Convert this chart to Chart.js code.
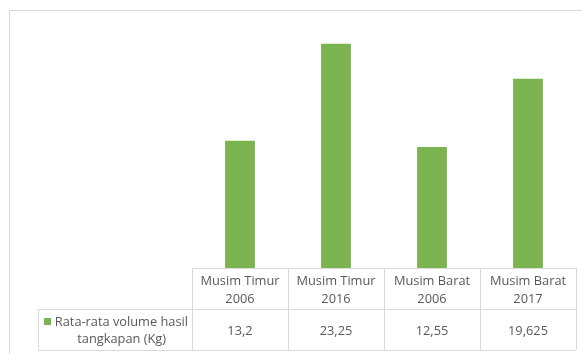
<!DOCTYPE html>
<html lang="id">
<head>
<meta charset="UTF-8">
<title>Rata-rata volume hasil tangkapan</title>
<script src="https://cdn.jsdelivr.net/npm/chart.js"></script>
<style>
  body { margin: 0; background: #fff; }
  .frame { position: absolute; left: 9px; top: 10px; width: 590px; height: 360px; border: 1px solid #d9d9d9; box-sizing: border-box; }
  #wrap { position: relative; width: 582px; height: 354px; }
</style>
</head>
<body>
<div id="wrap">
  <div class="frame"></div>
  <canvas id="catchChart" width="582" height="354"></canvas>
</div>
<script>
// categories (two-line labels) and the single series
const categories = [['Musim Timur', '2006'], ['Musim Timur', '2016'], ['Musim Barat', '2006'], ['Musim Barat', '2017']];
const seriesName = ['Rata-rata volume hasil', 'tangkapan (Kg)'];
const volumes = [13.2, 23.25, 12.55, 19.625];
const valueLabels = ['13,2', '23,25', '12,55', '19,625'];

const green = '#7bb34f';
const lineColor = '#d9d9d9';
const textColor = '#595959';
const font = '12.8px "Open Sans", sans-serif';

// draws the Excel style data table underneath the plot
const dataTable = {
  id: 'dataTable',
  afterDraw(chart) {
    const ctx = chart.ctx;
    const x = chart.scales.x;
    const area = chart.chartArea;
    const step = x.getPixelForValue(1) - x.getPixelForValue(0);
    const left = x.getPixelForValue(0) - step / 2;
    const right = x.getPixelForValue(categories.length - 1) + step / 2;
    const top = area.bottom;
    const mid = top + 41;
    const bottom = mid + 41;
    const legendLeft = 38;

    ctx.save();
    ctx.strokeStyle = lineColor;
    ctx.lineWidth = 1;
    ctx.beginPath();
    ctx.moveTo(left, top + 0.5); ctx.lineTo(right, top + 0.5);
    ctx.moveTo(legendLeft, mid + 0.5); ctx.lineTo(right, mid + 0.5);
    ctx.moveTo(legendLeft, bottom + 0.5); ctx.lineTo(right, bottom + 0.5);
    ctx.moveTo(legendLeft + 0.5, mid); ctx.lineTo(legendLeft + 0.5, bottom);
    for (let i = 0; i <= categories.length; i++) {
      const px = Math.round(left + i * step) + 0.5;
      ctx.moveTo(px, top); ctx.lineTo(px, bottom);
    }
    ctx.stroke();

    ctx.fillStyle = textColor;
    ctx.font = font;
    ctx.textAlign = 'center';
    ctx.textBaseline = 'middle';
    categories.forEach((lines, i) => {
      const cx = x.getPixelForValue(i);
      ctx.fillText(lines[0], cx, top + 13);
      ctx.fillText(lines[1], cx, top + 31);
      ctx.fillText(valueLabels[i], cx, mid + 22);
    });

    // series key
    ctx.fillStyle = green;
    ctx.fillRect(44, mid + 9, 7, 7);
    ctx.fillStyle = textColor;
    ctx.textAlign = 'right';
    ctx.fillText(seriesName[0], left - 4, mid + 13);
    ctx.fillText(seriesName[1], left - 26, mid + 30);
    ctx.restore();
  }
};

new Chart(document.getElementById('catchChart'), {
  type: 'bar',
  data: {
    labels: categories.map(c => c.join(' ')),
    datasets: [{
      label: seriesName.join(' '),
      data: volumes,
      backgroundColor: green,
      borderWidth: 0,
      categoryPercentage: 1,
      barPercentage: 0.31
    }]
  },
  options: {
    responsive: false,
    animation: false,
    layout: { padding: { left: 192, right: 6, top: 27, bottom: 86 } },
    plugins: { legend: { display: false }, tooltip: { enabled: false } },
    scales: {
      x: { display: false },
      y: { display: false, min: 0, max: 25 }
    }
  },
  plugins: [dataTable]
});
</script>
</body>
</html>
